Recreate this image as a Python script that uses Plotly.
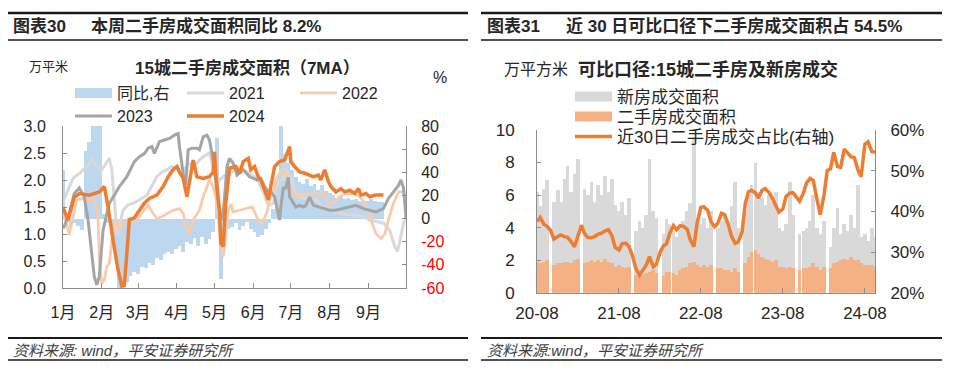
import pandas as pd
import plotly.graph_objects as go

W, H = 960, 381
PAGE_OFFSET = 8  # the page body margin shifts the figure by this many pixels
FONT = "Liberation Sans, Arial, Noto Sans CJK SC, sans-serif"
TXT = "#262626"

# ---------------- Left panel data (day offset from 2024-01-01) ----------------
MONTH_LABELS = ["1月", "2月", "3月", "4月", "5月", "6月", "7月", "8月", "9月", ""]
MONTH_TICKS = ["2024-01-01", "2024-02-01", "2024-03-01", "2024-04-01", "2024-05-01",
               "2024-06-01", "2024-07-01", "2024-08-01", "2024-09-01", "2024-10-01"]
LEFT_Y_TICKS = [0, 0.5, 1.0, 1.5, 2.0, 2.5, 3.0]
PCT_TICKS = [-60, -40, -20, 0, 20, 40, 60, 80]
PCT_LABELS = ["<span style='color:#FF0000'>-60</span>", "<span style='color:#FF0000'>-40</span>",
              "<span style='color:#FF0000'>-20</span>", "0", "20", "40", "60", "80"]

YOY_DAYS = list(range(0, 258, 3))
YOY_PCT = [42, -3, -8, -4, -6, -10, 58, 66, 85, 85,
           85, 4, -4, -12, -35, -60, -60, -55, -50, -46,
           -48, -42, -43, -38, -40, -34, -36, -31, -29, -31,
           -26, -24, -29, -20, -22, -17, -24, -16, -22, -18,
           -12, 70, -52, -18, -9, -7, -4, -10, -6, -3,
           -9, -12, -16, -14, -9, -4, 8, 35, 85, 56,
           48, 42, 36, 32, 30, 34, 28, 30, 25, 29,
           24, 22, 20, 18, 19, 17, 18, 16, 17, 15,
           16, 15, 17, 15, 14, 14]

D2021 = [0, 3, 8, 13, 19, 23, 25, 28, 31, 35, 37, 39, 41, 43, 44, 45, 48, 52, 56, 61,
         67, 71, 75, 79, 83, 87, 91, 95, 97, 100, 104, 107, 109, 112, 115, 117, 120, 123, 125, 128,
         131, 135, 139, 144, 149, 155, 160, 163, 165, 168, 170, 173, 176, 178, 181, 184, 186, 192, 197, 202,
         208, 213, 218, 224, 229, 234, 240, 245, 250, 256, 261, 265, 267, 269, 272, 274]
V2021 = [1.60, 1.75, 2.03, 2.12, 2.25, 2.37, 2.31, 2.22, 2.19, 2.34, 2.40, 2.19, 1.57, 1.07, 0.98, 1.14, 1.44, 1.54, 1.57, 1.63,
         1.72, 1.90, 2.06, 2.15, 2.19, 2.25, 2.22, 2.12, 2.19, 2.31, 2.28, 2.31, 2.37, 2.43, 2.47, 2.50, 2.22, 1.88, 2.00, 2.06,
         2.12, 2.15, 2.25, 2.19, 2.12, 2.03, 1.78, 1.57, 1.54, 1.57, 1.81, 1.97, 2.03, 2.20, 2.10, 1.90, 1.72, 1.66, 1.66, 1.63,
         1.50, 1.47, 1.41, 1.38, 1.35, 1.35, 1.32, 1.26, 1.23, 1.20, 1.07, 0.77, 0.68, 0.85, 1.20, 1.32]

D2022 = [0, 3, 5, 8, 11, 15, 20, 24, 27, 28, 29, 31, 33, 35, 37, 40, 43, 45, 49, 53,
         57, 61, 65, 68, 71, 75, 79, 83, 88, 93, 96, 99, 101, 104, 107, 109, 112, 115, 117, 120,
         123, 125, 127, 128, 129, 132, 134, 136, 141, 147, 151, 153, 156, 159, 160, 163, 165, 168, 170, 173,
         176, 178, 181, 184, 186, 192, 197, 202, 208, 212, 216, 221, 226, 232, 237, 242, 246, 250, 254, 257,
         260, 264, 268, 272, 274]
V2022 = [1.44, 1.14, 0.98, 1.32, 1.63, 1.66, 1.63, 1.66, 1.50, 1.26, 0.52, 0.09, 0.15, 0.40, 0.46, 1.07, 1.26, 1.07, 1.20, 1.29,
         1.26, 1.32, 1.44, 1.54, 1.41, 1.29, 1.32, 1.38, 1.44, 1.47, 1.38, 1.07, 1.01, 1.26, 1.38, 1.44, 1.69, 1.88, 2.00, 1.88,
         1.57, 1.07, 0.70, 0.58, 0.77, 1.44, 1.55, 1.41, 1.44, 1.47, 1.50, 1.41, 1.26, 1.20, 1.26, 1.41, 1.63, 1.78, 2.00, 2.12,
         2.19, 2.12, 1.88, 1.78, 1.69, 1.75, 1.72, 1.75, 1.78, 1.57, 1.57, 1.69, 1.75, 1.75, 1.69, 1.54, 1.26, 1.00, 0.92, 1.00,
         1.26, 1.57, 1.78, 1.78, 1.69]

D2023 = [0, 1, 5, 9, 13, 17, 20, 23, 25, 27, 29, 32, 35, 37, 41, 45, 51, 55, 57, 61,
         65, 68, 71, 73, 77, 81, 85, 89, 92, 93, 96, 98, 100, 103, 107, 109, 112, 115, 117, 119,
         121, 124, 127, 128, 131, 133, 136, 139, 144, 149, 155, 158, 161, 164, 166, 169, 172, 173, 174, 176,
         178, 180, 181, 184, 186, 189, 192, 194, 197, 200, 204, 208, 213, 218, 224, 229, 234, 240, 245, 250,
         256, 260, 264, 268, 270, 272, 274]
V2023 = [1.10, 1.14, 1.38, 1.75, 1.85, 1.69, 1.26, 0.64, 0.21, 0.06, 0.21, 1.07, 1.38, 1.57, 1.72, 1.88, 2.06, 2.25, 2.34, 2.43,
         2.49, 2.59, 2.62, 2.49, 2.71, 2.74, 2.77, 2.83, 2.86, 2.62, 2.12, 1.91, 2.56, 2.59, 2.59, 2.56, 2.80, 2.83, 2.74, 2.49,
         2.19, 1.57, 1.26, 1.38, 2.25, 2.40, 2.31, 2.09, 2.19, 2.06, 2.00, 2.03, 1.88, 1.78, 1.78, 1.69, 1.38, 1.26, 1.50, 1.85,
         1.85, 2.05, 1.69, 1.57, 1.50, 1.53, 1.50, 1.53, 1.69, 1.53, 1.50, 1.47, 1.44, 1.44, 1.47, 1.50, 1.53, 1.47, 1.44, 1.41,
         1.47, 1.66, 1.78, 1.90, 2.00, 1.85, 1.30]

D2024 = [0, 4, 9, 13, 21, 29, 33, 36, 40, 44, 47, 49, 51, 53, 57, 61, 65, 69, 75, 80,
         84, 88, 91, 93, 96, 99, 101, 104, 107, 112, 117, 120, 121, 122, 125, 126, 128, 130, 133, 138,
         141, 144, 148, 150, 153, 156, 158, 161, 164, 166, 169, 173, 177, 181, 182, 185, 189, 194, 200, 204,
         206, 209, 212, 214, 218, 222, 225, 229, 233, 236, 238, 242, 245, 250, 256]
V2024 = [1.49, 1.26, 1.68, 1.75, 1.72, 1.78, 1.88, 1.50, 0.89, 0.33, 0.04, 0.05, 0.64, 1.26, 1.30, 1.44, 1.57, 1.66, 1.72, 1.88,
         2.06, 2.19, 2.25, 2.15, 2.03, 1.69, 1.95, 2.37, 2.06, 2.03, 2.06, 2.15, 2.52, 2.12, 1.44, 0.83, 0.77, 1.57, 2.22, 2.25,
         2.12, 2.34, 2.40, 2.19, 2.25, 2.06, 2.00, 1.81, 1.63, 1.88, 2.25, 2.34, 2.37, 2.62, 2.34, 2.25, 2.15, 2.12, 2.06, 2.09,
         2.00, 2.19, 1.97, 1.88, 1.78, 1.84, 1.78, 1.81, 1.75, 1.84, 1.72, 1.75, 1.69, 1.72, 1.72]

# ---------------- Right panel data (semi-monthly from 2020-08-01) ----------------
R_DATES = pd.date_range("2020-08-01", periods=100, freq="SMS")
YEAR_TICKS = ["2020-08-01", "2021-08-01", "2022-08-01", "2023-08-01", "2024-08-01"]
YEAR_LABELS = ["20-08", "21-08", "22-08", "23-08", "24-08"]
R_LEFT_TICKS = [0, 2, 4, 6, 8, 10]
R_RIGHT_TICKS = [20, 30, 40, 50, 60]
R_RIGHT_LABELS = ["20%", "30%", "40%", "50%", "60%"]

NEW_HOME = [6.2, 5.3, 6.4, 6.9, 0, 5.6, 6.3, 5.6, 7.0, 7.8,
            6.2, 7.3, 8.2, 0, 6.4, 6.0, 6.8, 5.6, 6.6, 6.0,
            7.2, 6.2, 7.0, 5.4, 5.0, 5.6, 4.8, 5.8, 0, 3.8,
            4.4, 4.0, 4.8, 8.2, 5.0, 4.6, 0, 3.6, 4.5, 4.2,
            3.8, 3.4, 3.9, 4.4, 5.0, 5.5, 9.6, 4.6, 4.2, 4.6,
            4.0, 5.0, 0, 4.0, 4.4, 4.8, 4.2, 5.3, 6.8, 4.0,
            0, 5.0, 6.0, 6.6, 8.0, 6.2, 5.8, 5.4, 6.0, 5.6,
            6.2, 4.0, 3.8, 4.2, 6.8, 4.8, 0, 3.6, 3.8, 4.0,
            4.4, 6.0, 4.0, 3.6, 4.4, 0, 2.8, 4.0, 5.2, 3.6,
            4.2, 3.8, 4.8, 4.0, 6.6, 3.4, 3.6, 3.2, 4.0, 3.4]
SECOND_HAND = [1.9, 1.8, 1.9, 2.0, 0, 1.7, 1.8, 1.8, 1.9, 1.9,
               1.8, 2.0, 2.1, 0, 1.8, 1.9, 2.0, 1.9, 2.0, 1.9,
               2.1, 1.9, 1.8, 1.6, 1.7, 1.6, 1.5, 1.6, 0, 1.1,
               1.2, 1.1, 1.2, 1.3, 1.4, 1.2, 0, 1.0, 1.3, 1.3,
               1.2, 1.1, 1.4, 1.5, 1.6, 1.8, 1.9, 1.7, 1.6, 1.7,
               1.6, 1.7, 0, 1.5, 1.5, 1.4, 1.4, 1.3, 1.5, 1.3,
               0, 1.8, 2.2, 2.5, 2.6, 2.4, 2.2, 2.1, 2.0, 1.9,
               2.0, 1.6, 1.6, 1.5, 1.6, 1.5, 0, 1.4, 1.5, 1.5,
               1.6, 1.8, 1.6, 1.4, 1.6, 0, 1.5, 1.8, 1.9, 2.0,
               2.1, 2.0, 2.2, 2.0, 2.0, 1.8, 1.7, 1.7, 1.7, 1.6]
SHARE_30D = [37.5, 38.5, 36.8, 36.3, 35.3, 33.2, 33.8, 34.2, 33.8, 33.6,
             32.5, 31.3, 34.2, 36.6, 34.5, 33.6, 33.5, 33.8, 34.4, 34.6,
             35.2, 35.5, 34.0, 31.2, 30.5, 32.0, 32.2, 31.3, 29.0, 26.0,
             24.3, 25.6, 26.8, 28.9, 26.4, 27.0, 30.0, 31.5, 32.0, 34.5,
             36.5, 35.5, 36.5, 36.3, 35.6, 33.0, 31.3, 37.0, 41.0, 41.1,
             40.2, 37.5, 36.2, 37.0, 39.5, 39.2, 36.8, 34.0, 32.1, 32.5,
             35.0, 42.0, 44.8, 45.2, 44.5, 43.3, 45.2, 45.6, 44.6, 43.3,
             41.5, 39.8, 40.5, 43.6, 44.5, 44.6, 43.5, 42.5, 44.5, 47.0,
             48.1, 47.6, 42.8, 39.2, 44.0, 50.0, 50.5, 54.5, 51.0, 50.8,
             55.3, 54.4, 53.4, 53.2, 50.2, 48.5, 56.5, 57.1, 54.7, 54.5]

# ---------------- colours ----------------
C_BLUE = "#BDD7EE"
C_2021 = "#D9D9D9"
C_2022 = "#F8CBAD"
C_2023 = "#A5A5A5"
C_2024 = "#ED7D31"
C_NEW = "#D9D9D9"
C_SEC = "#F4B183"
C_RATIO = "#ED7D31"

DAY_MS = 86400000
BASE = pd.Timestamp("2024-01-01")


def to_dates(days):
    return BASE + pd.to_timedelta(days, unit="D")


def px(x):
    return (x - PAGE_OFFSET) / W


def py(y):
    return 1 - (y - PAGE_OFFSET) / H


fig = go.Figure()

# ---- left panel ----
fig.add_trace(go.Bar(x=to_dates(YOY_DAYS), y=YOY_PCT, width=3 * DAY_MS,
                     marker=dict(color=C_BLUE, line=dict(width=0)),
                     xaxis="x", yaxis="y", showlegend=False, hoverinfo="skip"))
fig.add_trace(go.Scatter(x=[None], y=[None], mode="lines", name="同比,右",
                         line=dict(color=C_BLUE, width=10), xaxis="x", yaxis="y2", legend="legend"))
fig.add_trace(go.Scatter(x=to_dates(D2021), y=V2021, mode="lines", name="2021",
                         line=dict(color=C_2021, width=3), xaxis="x", yaxis="y2", legend="legend2"))
fig.add_trace(go.Scatter(x=to_dates(D2022), y=V2022, mode="lines", name="2022",
                         line=dict(color=C_2022, width=2.8), xaxis="x", yaxis="y2", legend="legend3"))
fig.add_trace(go.Scatter(x=to_dates(D2023), y=V2023, mode="lines", name="2023",
                         line=dict(color=C_2023, width=3), xaxis="x", yaxis="y2", legend="legend4"))
fig.add_trace(go.Scatter(x=to_dates(D2024), y=V2024, mode="lines", name="2024",
                         line=dict(color=C_2024, width=3.5), xaxis="x", yaxis="y2", legend="legend5"))

# ---- right panel ----
fig.add_trace(go.Bar(x=R_DATES, y=NEW_HOME, width=16.5 * DAY_MS,
                     marker=dict(color=C_NEW, line=dict(width=0)),
                     xaxis="x2", yaxis="y3", showlegend=False, hoverinfo="skip"))
fig.add_trace(go.Bar(x=R_DATES, y=SECOND_HAND, width=16.5 * DAY_MS,
                     marker=dict(color=C_SEC, line=dict(width=0)),
                     xaxis="x2", yaxis="y3", showlegend=False, hoverinfo="skip"))
fig.add_trace(go.Scatter(x=[None], y=[None], mode="lines", name="新房成交面积",
                         line=dict(color=C_NEW, width=10), xaxis="x2", yaxis="y4", legend="legend6"))
fig.add_trace(go.Scatter(x=[None], y=[None], mode="lines", name="二手房成交面积",
                         line=dict(color=C_SEC, width=10), xaxis="x2", yaxis="y4", legend="legend7"))
fig.add_trace(go.Scatter(x=R_DATES, y=SHARE_30D, mode="lines", name="近30日二手房成交占比(右轴)",
                         line=dict(color=C_RATIO, width=3.5), xaxis="x2", yaxis="y4", legend="legend8"))

AX = dict(showline=True, linecolor="#8c8c8c", linewidth=1, ticks="inside", tickcolor="#8c8c8c",
          showgrid=False, zeroline=False, fixedrange=True, automargin=False)
TF16 = dict(family=FONT, size=16, color=TXT)
TF17 = dict(family=FONT, size=17, color=TXT)


def leg(x, y, size):
    return dict(x=px(x), y=py(y), xanchor="left", yanchor="middle", orientation="h",
                bgcolor="rgba(0,0,0,0)", borderwidth=0, itemwidth=37,
                font=dict(family=FONT, size=size, color=TXT), itemclick=False)


fig.update_layout(
    width=W, height=H, margin=dict(l=0, r=0, t=0, b=0, pad=0, autoexpand=False),
    paper_bgcolor="white", plot_bgcolor="white",
    barmode="overlay", bargap=0, showlegend=True,
    xaxis=dict(AX, domain=[px(63), px(406)], anchor="y", type="date",
               range=["2024-01-01", "2024-10-01"], tickvals=MONTH_TICKS, ticktext=MONTH_LABELS,
               ticklen=5, tickfont=TF16, ticklabelstandoff=10),
    yaxis=dict(AX, domain=[py(288), py(126)], anchor="x", side="right", range=[-60, 80],
               tickvals=PCT_TICKS, ticktext=PCT_LABELS, ticklen=4, tickfont=TF16, ticklabelstandoff=11),
    yaxis2=dict(AX, overlaying="y", anchor="x", side="left", range=[0, 3],
                tickvals=LEFT_Y_TICKS, tickformat=".1f", ticklen=4, tickfont=TF16, ticklabelstandoff=13),
    xaxis2=dict(AX, domain=[px(537), px(875)], anchor="y3", type="date",
                range=["2020-08-01", "2024-09-15"], tickvals=YEAR_TICKS, ticktext=YEAR_LABELS,
                ticklen=5, tickfont=TF17, ticklabelstandoff=5),
    yaxis3=dict(AX, domain=[py(292.7), py(130)], anchor="x2", side="left", range=[0, 10],
                tickvals=R_LEFT_TICKS, ticklen=4, tickfont=TF17, ticklabelstandoff=18),
    yaxis4=dict(AX, overlaying="y3", anchor="x2", side="right", range=[20, 60],
                tickvals=R_RIGHT_TICKS, ticktext=R_RIGHT_LABELS, ticklen=4, tickfont=TF17,
                ticklabelstandoff=11),
    legend=leg(70, 93, 16),
    legend2=leg(182, 93, 16),
    legend3=leg(295, 93, 16),
    legend4=leg(70, 116, 16),
    legend5=leg(182, 116, 16),
    legend6=leg(570, 97, 17),
    legend7=leg(570, 117, 17),
    legend8=leg(570, 137, 17),
)

# ---- frame rules ----
RULE = "#1a1a1a"
shapes = []
for (x0, x1) in [(8, 468), (481, 942)]:
    for (y, w) in [(13, 2.5), (40, 1.6), (338, 2), (360, 1.6)]:
        shapes.append(dict(type="line", xref="paper", yref="paper", x0=px(x0), x1=px(x1),
                           y0=py(y), y1=py(y), line=dict(color=RULE, width=w)))
fig.update_layout(shapes=shapes)


def ann(text, x, y, size, xanchor="left", bold=False, italic=False, color=TXT):
    return dict(text=("<b>%s</b>" % text) if bold else text, x=px(x), y=py(y), xref="paper", yref="paper",
                xanchor=xanchor, yanchor="middle", showarrow=False,
                font=dict(family=FONT, size=size, color=color, style="italic" if italic else "normal"))


annotations = [
    ann("图表30", 11, 26, 17, bold=True),
    ann("本周二手房成交面积同比 8.2%", 89, 26, 17, bold=True),
    ann("图表31", 485, 26, 17, bold=True),
    ann("近 30 日可比口径下二手房成交面积占 54.5%", 564, 26, 17, bold=True),
    ann("万平米", 27, 67, 13),
    ann("15城二手房成交面积（7MA）", 247, 68, 17, xanchor="center", bold=True),
    ann("%", 440, 77, 16, xanchor="center"),
    ann("万平方米", 502, 69, 16),
    ann("可比口径:15城二手房及新房成交", 576, 69, 18, bold=True),
    ann("资料来源: wind，平安证券研究所", 11, 350, 15, italic=True, color="#404040"),
    ann("资料来源:wind，平安证券研究所", 485, 350, 15, italic=True, color="#404040"),
]
fig.update_layout(annotations=annotations)

fig.write_html("out.html")
